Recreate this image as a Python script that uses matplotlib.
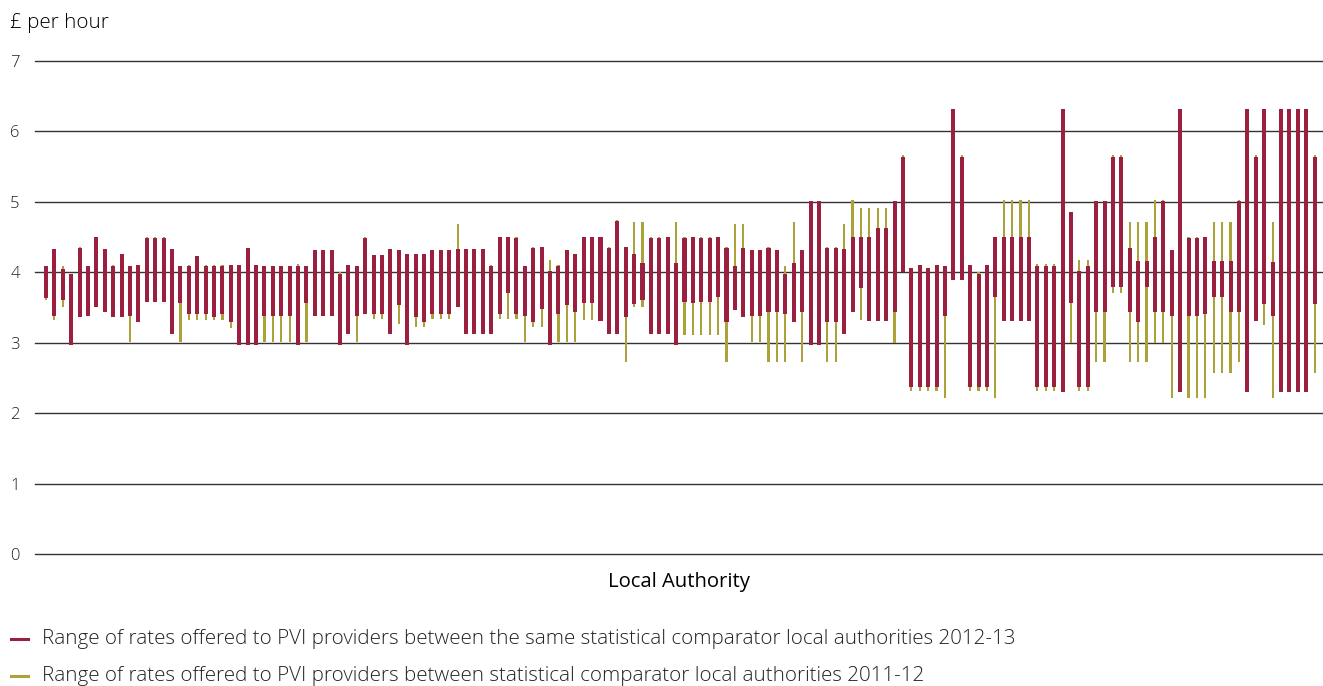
import numpy as np
import matplotlib
matplotlib.use("Agg")
import matplotlib.pyplot as plt
from matplotlib.lines import Line2D

# 2012-13 range (red): high / low per local authority
red_hi = [4.09, 4.33, 4.05, 3.98, 4.35, 4.09, 4.50, 4.33, 4.09, 4.26,
          4.09, 4.10, 4.49, 4.49, 4.49, 4.33, 4.09, 4.09, 4.23, 4.09,
          4.09, 4.09, 4.10, 4.10, 4.35, 4.10, 4.09, 4.09, 4.09, 4.09,
          4.09, 4.09, 4.32, 4.32, 4.32, 3.98, 4.10, 4.09, 4.49, 4.25,
          4.25, 4.33, 4.32, 4.26, 4.26, 4.26, 4.32, 4.32, 4.32, 4.33,
          4.33, 4.33, 4.33, 4.09, 4.50, 4.50, 4.49, 4.09, 4.35, 4.36,
          4.02, 4.09, 4.32, 4.26, 4.50, 4.50, 4.50, 4.35, 4.73, 4.36,
          4.26, 4.13, 4.49, 4.49, 4.50, 4.13, 4.49, 4.50, 4.49, 4.49,
          4.50, 4.35, 4.09, 4.35, 4.32, 4.32, 4.35, 4.32, 3.98, 4.13,
          4.32, 5.01, 5.01, 4.35, 4.35, 4.33, 4.50, 4.50, 4.50, 4.63,
          4.63, 5.01, 5.64, 4.06, 4.10, 4.06, 4.10, 4.09, 6.32, 5.64,
          4.10, 3.97, 4.10, 4.50, 4.50, 4.50, 4.50, 4.50, 4.09, 4.09,
          4.09, 6.32, 4.85, 4.02, 4.09, 5.01, 5.01, 5.64, 5.64, 4.34,
          4.16, 4.16, 4.50, 5.01, 4.31, 6.32, 4.48, 4.48, 4.50, 4.16,
          4.16, 4.16, 5.01, 6.32, 5.64, 6.32, 4.14, 6.32, 6.32, 6.32,
          6.32, 5.64]
red_lo = [3.64, 3.38, 3.61, 2.97, 3.37, 3.38, 3.51, 3.44, 3.37, 3.37,
          3.38, 3.30, 3.58, 3.58, 3.58, 3.13, 3.56, 3.41, 3.41, 3.41,
          3.37, 3.41, 3.30, 2.97, 2.97, 2.97, 3.38, 3.38, 3.38, 3.38,
          2.97, 3.56, 3.38, 3.38, 3.38, 2.97, 3.13, 3.38, 3.41, 3.41,
          3.41, 3.13, 3.54, 2.97, 3.37, 3.30, 3.41, 3.41, 3.41, 3.51,
          3.13, 3.13, 3.13, 3.13, 3.41, 3.70, 3.41, 3.38, 3.30, 3.48,
          2.97, 3.41, 3.54, 3.44, 3.57, 3.57, 3.31, 3.13, 3.13, 3.36,
          3.55, 3.61, 3.13, 3.13, 3.13, 2.97, 3.58, 3.57, 3.58, 3.58,
          3.65, 3.30, 3.46, 3.37, 3.38, 3.38, 3.44, 3.44, 3.41, 3.30,
          3.44, 2.97, 2.97, 3.30, 3.30, 3.13, 3.44, 3.78, 3.31, 3.31,
          3.31, 3.44, 4.00, 2.37, 2.37, 2.37, 2.37, 3.38, 3.89, 3.89,
          2.37, 2.37, 2.37, 3.65, 3.31, 3.31, 3.31, 3.31, 2.37, 2.37,
          2.37, 2.30, 3.57, 2.37, 2.37, 3.44, 3.44, 3.79, 3.79, 3.44,
          3.30, 3.79, 3.44, 3.44, 3.38, 2.30, 3.38, 3.38, 3.41, 3.65,
          3.65, 3.44, 3.44, 2.30, 3.31, 3.55, 3.38, 2.30, 2.30, 2.30,
          2.30, 3.55]

# 2011-12 range (olive): high / low per local authority
olive_hi = [4.09, 4.33, 4.09, 3.98, 4.36, 4.09, 4.50, 4.33, 4.10, 4.26,
            4.09, 4.10, 4.50, 4.50, 4.50, 4.33, 4.09, 4.10, 4.23, 4.10,
            4.10, 4.10, 4.10, 4.10, 4.35, 4.10, 4.09, 4.09, 4.09, 4.09,
            4.12, 4.09, 4.32, 4.32, 4.32, 4.00, 4.10, 4.09, 4.50, 4.25,
            4.25, 4.33, 4.32, 4.26, 4.26, 4.26, 4.32, 4.32, 4.32, 4.68,
            4.33, 4.33, 4.33, 4.10, 4.50, 4.50, 4.50, 4.09, 4.36, 4.36,
            4.18, 4.10, 4.32, 4.26, 4.50, 4.50, 4.50, 4.36, 4.74, 4.36,
            4.71, 4.71, 4.50, 4.50, 4.50, 4.71, 4.50, 4.50, 4.50, 4.50,
            4.50, 4.36, 4.68, 4.68, 4.32, 4.32, 4.36, 4.32, 4.09, 4.71,
            4.32, 5.01, 5.01, 4.36, 4.36, 4.68, 5.02, 4.91, 4.91, 4.91,
            4.91, 5.01, 5.67, 4.06, 4.10, 4.06, 4.10, 4.09, 6.32, 5.67,
            4.10, 4.00, 4.10, 4.50, 5.02, 5.02, 5.02, 5.02, 4.12, 4.12,
            4.12, 6.32, 4.85, 4.17, 4.17, 5.01, 5.01, 5.67, 5.67, 4.71,
            4.71, 4.71, 5.02, 5.02, 4.31, 6.32, 4.50, 4.50, 4.50, 4.71,
            4.71, 4.71, 5.02, 6.32, 5.67, 6.32, 4.71, 6.32, 6.32, 6.32,
            6.32, 5.67]
olive_lo = [3.61, 3.32, 3.51, 2.97, 3.37, 3.38, 3.51, 3.43, 3.37, 3.37,
            3.01, 3.30, 3.58, 3.58, 3.58, 3.13, 3.01, 3.32, 3.32, 3.32,
            3.32, 3.32, 3.21, 2.97, 2.97, 2.97, 3.01, 3.01, 3.01, 3.01,
            2.97, 3.01, 3.38, 3.38, 3.38, 2.97, 3.13, 3.01, 3.41, 3.34,
            3.33, 3.13, 3.26, 2.97, 3.22, 3.22, 3.33, 3.33, 3.33, 3.51,
            3.13, 3.13, 3.13, 3.13, 3.33, 3.33, 3.33, 3.01, 3.22, 3.22,
            2.97, 3.01, 3.01, 3.01, 3.32, 3.32, 3.31, 3.13, 3.13, 2.73,
            3.51, 3.51, 3.13, 3.13, 3.13, 2.97, 3.11, 3.11, 3.11, 3.11,
            3.11, 2.73, 3.46, 3.37, 3.01, 3.01, 2.73, 2.73, 2.72, 3.30,
            2.73, 2.97, 2.97, 2.73, 2.73, 3.13, 3.44, 3.32, 3.31, 3.31,
            3.31, 3.00, 4.00, 2.32, 2.32, 2.32, 2.32, 2.22, 3.89, 3.89,
            2.32, 2.32, 2.32, 2.22, 3.31, 3.31, 3.31, 3.31, 2.32, 2.32,
            2.32, 2.30, 3.00, 2.32, 2.32, 2.73, 2.73, 3.71, 3.71, 2.73,
            2.73, 2.73, 3.00, 3.00, 2.22, 2.30, 2.22, 2.22, 2.22, 2.57,
            2.57, 2.57, 2.73, 2.30, 3.31, 3.25, 2.22, 2.30, 2.30, 2.30,
            2.30, 2.57]

yticks = [0, 1, 2, 3, 4, 5, 6, 7]
y_label = "£ per hour"
x_label = "Local Authority"
legend_labels = [
    "Range of rates offered to PVI providers between the same statistical comparator local authorities 2012-13",
    "Range of rates offered to PVI providers between statistical comparator local authorities 2011-12",
]

RED = "#9b1f3e"
OLIVE = "#aca23a"
FONT = ["Open Sans", "DejaVu Sans"]
plt.rcParams["font.family"] = FONT
plt.rcParams["font.weight"] = "light"

W, H = 1323, 686
fig = plt.figure(figsize=(W / 100, H / 100), dpi=100)
ax = fig.add_axes([35 / W, 1 - 554 / H, 1 - 35 / W, (554 - 61) / H])

x = np.arange(len(red_hi))
r_hi, r_lo = np.array(red_hi), np.array(red_lo)
o_hi, o_lo = np.array(olive_hi), np.array(olive_lo)

ax.bar(x, o_hi - o_lo, bottom=o_lo, width=0.26, color=OLIVE, zorder=2, linewidth=0)
ax.bar(x, r_hi - r_lo, bottom=r_lo, width=0.48, color=RED, zorder=3, linewidth=0)

ax.set_ylim(0, 7)
ax.set_xlim(-1.31, 152.0)
ax.set_yticks(yticks)
ax.set_yticklabels([str(t) for t in yticks], fontsize=12, color="#222222")
ax.set_xticks([])
for s in ax.spines.values():
    s.set_visible(False)
ax.tick_params(axis="y", length=0, pad=11)
for t in yticks:
    ax.axhline(t, color="#333333", linewidth=1.0, zorder=1, clip_on=False)

ax.set_xlabel(x_label, fontsize=14.6, color="#000000", labelpad=13)
fig.text(10 / W, 1 - 23 / H, y_label, fontsize=14.8, color="#000000", va="center", ha="left")

for i, (lab, col) in enumerate(zip(legend_labels, [RED, OLIVE])):
    yc = 1 - (639 + 37 * i) / H
    fig.add_artist(Line2D([11 / W, 28 / W], [yc, yc], color=col, linewidth=2.2,
                          transform=fig.transFigure))
    fig.text(42 / W, yc, lab, fontsize=14.8, color="#222222", va="center", ha="left")

fig.savefig("out.png", dpi=100)
